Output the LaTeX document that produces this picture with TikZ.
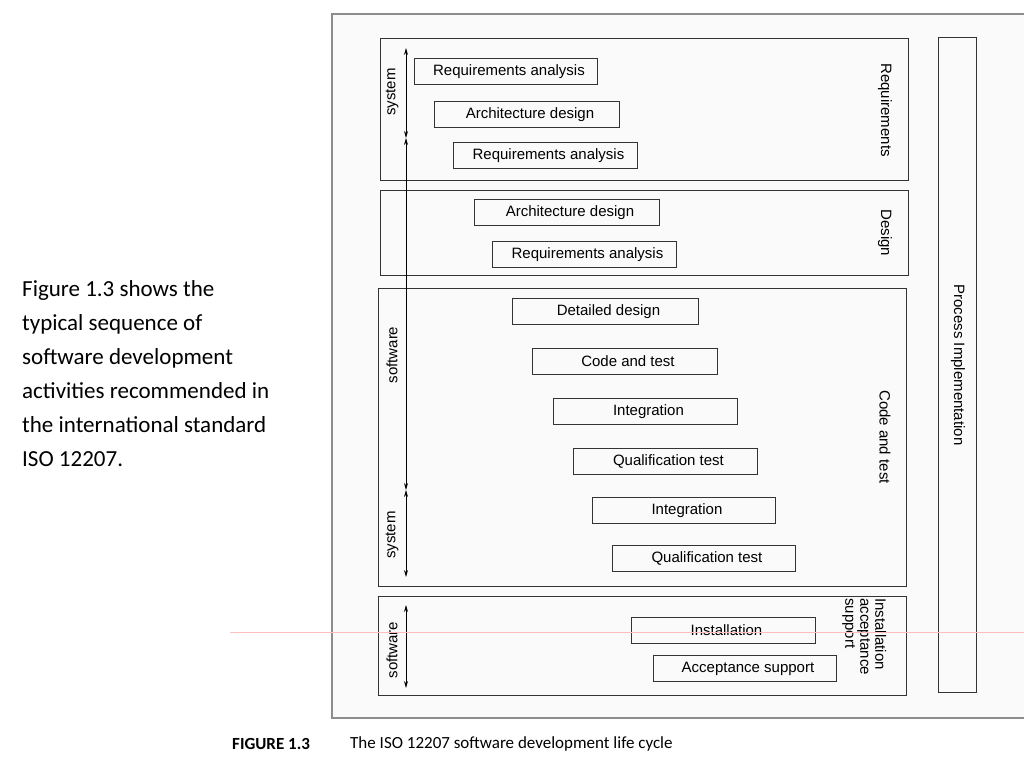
\documentclass[tikz,border=0pt]{standalone}
\usetikzlibrary{arrows.meta}
\usepackage{fontspec}
\setmainfont{Liberation Sans}
\newfontfamily\carl{Carlito}
\begin{document}
\begin{tikzpicture}[x=1pt,y=-1pt,
  act/.style={draw=black!80,line width=0.9pt,anchor=north west,inner sep=0pt,font=\fontsize{15}{15}\selectfont},
  phase/.style={draw=black!80,line width=0.9pt},
  side/.style={rotate=-90,font=\fontsize{15}{17}\selectfont,align=left},
  lft/.style={rotate=90,font=\fontsize{15}{15}\selectfont},
  dar/.style={line width=0.8pt,{Stealth[length=7pt,width=4pt]}-{Stealth[length=7pt,width=4pt]}}]
\useasboundingbox (0,0) rectangle (1024,768);
\fill[white] (0,0) rectangle (1024,768);
\fill[black!2] (332,14) rectangle (1024,718);
\draw[black!45,line width=1.2pt] (1024,14) -- (332,14) -- (332,718) -- (1024,718);
\draw[phase] (380,38) rectangle (908,180);
\draw[phase] (380,190) rectangle (908,275);
\draw[phase] (378,288) rectangle (906,586);
\draw[phase] (378,596) rectangle (906,695);
\draw[phase] (938,37) rectangle (976,692);
\foreach \n/\x/\y/\w/\t in {ra1/414/58/183/Requirements analysis, ad1/434/101/185/Architecture design, ra2/453/142/184/Requirements analysis, ad2/474/199/185/Architecture design, ra3/492/241/184/Requirements analysis, dd/512/298/186/Detailed design, ct/532/348/185/Code and test, in1/553/398/184/Integration, qt1/573/448/184/Qualification test, in2/592/497/183/Integration, qt2/612/545/183/Qualification test, ins/631/617/184/Installation, as/653/655/183/Acceptance support}
  \node[act,minimum width=\w pt,minimum height=26pt] (\n) at (\x,\y) {\hspace*{6pt}\t\hfill};
\node[side] (l1) at (885,110) {Requirements};
\node[side] (l2) at (885,233) {Design};
\node[side] (l3) at (885,437) {Code and test};
\node[side,anchor=south west,inner sep=0pt,font=\fontsize{15}{15}\selectfont] (l4) at (842,598) {Installation\\acceptance\\support};
\node[side,font=\fontsize{15}{15}\selectfont] (l5) at (958,365) {Process Implementation};
\node[lft] (s1) at (392,92) {system};
\node[lft] (s2) at (392,355) {software};
\node[lft] (s3) at (392,535) {system};
\node[lft] (s4) at (392,650) {software};
\coordinate (a0) at (406,48); \coordinate (a1) at (406,138);
\coordinate (a2) at (406,490); \coordinate (a3) at (406,577);
\coordinate (b0) at (406,605); \coordinate (b1) at (406,688);
\draw[dar] (a0) -- (a1); \draw[dar] (a1) -- (a2); \draw[dar] (a2) -- (a3); \draw[dar] (b0) -- (b1);
\draw[red!25,line width=0.8pt] (230,632) -- (1024,632);
\node[anchor=north west,align=left,font=\carl\fontsize{23}{34}\selectfont,inner sep=0pt] (txt) at (22,280) {Figure 1.3 shows the\\typical sequence of\\software development\\activities recommended in\\the international standard\\ISO 12207.};
\node[anchor=west,inner sep=0pt,font=\carl\bfseries\fontsize{17}{17}\selectfont] (cap1) at (232,744) {FIGURE 1.3};
\node[anchor=west,inner sep=0pt,font=\carl\fontsize{17}{17}\selectfont] (cap2) at (350,744) {The ISO 12207 software development life cycle};
\end{tikzpicture}
\end{document}
